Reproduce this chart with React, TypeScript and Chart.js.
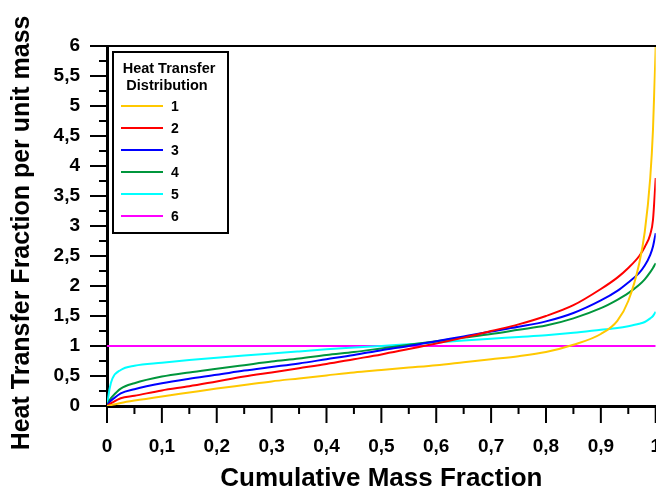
import React, { useEffect, useRef } from 'react';
import { Chart, registerables } from 'chart.js';

Chart.register(...registerables);

// Cumulative mass fraction sample points (shared by series 1-5)
const massFraction = [0, 0.005, 0.01, 0.025, 0.05, 0.1, 0.15, 0.2, 0.25, 0.3, 0.35, 0.4, 0.45, 0.5, 0.55, 0.6, 0.65, 0.7, 0.75, 0.8, 0.85, 0.9, 0.93, 0.95, 0.97, 0.98, 0.99, 0.995, 1];

// Heat transfer fraction per unit mass
const dist1 = [0, 0.01, 0.02, 0.05, 0.09, 0.16, 0.225, 0.29, 0.35, 0.41, 0.46, 0.51, 0.56, 0.6, 0.64, 0.68, 0.73, 0.78, 0.83, 0.9, 1.02, 1.2, 1.42, 1.75, 2.38, 2.9, 3.8, 4.6, 6.0];
const dist2 = [0, 0.03, 0.06, 0.13, 0.17, 0.26, 0.33, 0.41, 0.49, 0.56, 0.63, 0.7, 0.78, 0.86, 0.95, 1.04, 1.14, 1.25, 1.36, 1.5, 1.68, 1.95, 2.14, 2.3, 2.5, 2.65, 2.86, 3.1, 3.8];
const dist3 = [0, 0.07, 0.11, 0.21, 0.28, 0.38, 0.455, 0.52, 0.59, 0.65, 0.71, 0.78, 0.85, 0.93, 1.0, 1.08, 1.16, 1.24, 1.32, 1.41, 1.55, 1.76, 1.92, 2.06, 2.22, 2.34, 2.52, 2.66, 2.88];
const dist4 = [0, 0.1, 0.16, 0.29, 0.38, 0.49, 0.56, 0.62, 0.68, 0.74, 0.79, 0.85, 0.9, 0.96, 1.02, 1.08, 1.14, 1.2, 1.27, 1.34, 1.46, 1.63, 1.77, 1.88, 2.02, 2.11, 2.23, 2.3, 2.38];
const dist5 = [0, 0.3, 0.46, 0.6, 0.67, 0.72, 0.765, 0.805, 0.84, 0.875, 0.91, 0.945, 0.975, 1.0, 1.03, 1.06, 1.09, 1.12, 1.15, 1.18, 1.22, 1.27, 1.3, 1.33, 1.37, 1.4, 1.46, 1.5, 1.57];
// uniform distribution
const uniformX = [0, 1];
const dist6 = [1, 1];

const seriesLabels = ['1', '2', '3', '4', '5', '6'];
const seriesColors = ['#FFC800', '#FF0000', '#0000FF', '#00963C', '#00FFFF', '#FF00FF'];

const xTickLabels = ['0', '0,1', '0,2', '0,3', '0,4', '0,5', '0,6', '0,7', '0,8', '0,9', '1'];
const yTickLabels = ['0', '0,5', '1', '1,5', '2', '2,5', '3', '3,5', '4', '4,5', '5', '5,5', '6'];

const FONT = "'Liberation Sans', Arial, sans-serif";

const toPoints = (xs: number[], ys: number[]) => xs.map((x, i) => ({ x, y: ys[i] }));

// tick marks (major + minor), top frame line and the boxed legend
const decorPlugin = {
  id: 'decor',
  afterDraw(chart: any) {
    const { ctx, chartArea, scales } = chart;
    const xs = scales.x;
    const ys = scales.y;
    ctx.save();
    ctx.strokeStyle = '#000';
    ctx.lineWidth = 2;

    ctx.beginPath();
    ctx.moveTo(chartArea.left, chartArea.top);
    ctx.lineTo(chartArea.right + 2, chartArea.top);
    ctx.stroke();

    for (let i = 0; i <= 20; i++) {
      const px = xs.getPixelForValue(i / 20);
      const len = i % 2 === 0 ? 17 : 8;
      ctx.beginPath();
      ctx.moveTo(px, chartArea.bottom);
      ctx.lineTo(px, chartArea.bottom + len);
      ctx.stroke();
    }
    for (let i = 0; i <= 24; i++) {
      const py = ys.getPixelForValue(i / 4);
      const len = i % 2 === 0 ? 17 : 8;
      ctx.beginPath();
      ctx.moveTo(chartArea.left, py);
      ctx.lineTo(chartArea.left - len, py);
      ctx.stroke();
    }

    // legend box
    const lx = chartArea.left + 6;
    const ly = 52;
    ctx.fillStyle = '#fff';
    ctx.fillRect(lx, ly, 115, 181);
    ctx.strokeRect(lx, ly, 115, 181);
    ctx.fillStyle = '#000';
    ctx.font = `bold 14.5px ${FONT}`;
    ctx.textAlign = 'center';
    ctx.textBaseline = 'middle';
    ctx.fillText('Heat Transfer', lx + 56, 69);
    ctx.fillText('Distribution', lx + 54, 86);
    ctx.font = `bold 14px ${FONT}`;
    ctx.textAlign = 'left';
    chart.data.datasets.forEach((ds: any, i: number) => {
      const cy = 106 + 22 * i;
      ctx.strokeStyle = ds.borderColor;
      ctx.beginPath();
      ctx.moveTo(lx + 8, cy);
      ctx.lineTo(lx + 50, cy);
      ctx.stroke();
      ctx.fillStyle = '#000';
      ctx.fillText(ds.label, lx + 58, cy + 1);
    });
    ctx.restore();
  },
};

const HeatChart = () => {
  const canvasRef = useRef<HTMLCanvasElement>(null);

  useEffect(() => {
    document.body.style.margin = '0';
    if (!canvasRef.current) return;
    const seriesY = [dist1, dist2, dist3, dist4, dist5, dist6];
    const chart = new Chart(canvasRef.current, {
      type: 'line',
      data: {
        datasets: seriesY.map((ys, i) => ({
          label: seriesLabels[i],
          data: toPoints(i === 5 ? uniformX : massFraction, ys),
          borderColor: seriesColors[i],
          backgroundColor: seriesColors[i],
          borderWidth: 2,
          pointRadius: 0,
          fill: false,
          cubicInterpolationMode: 'monotone' as const,
        })),
      },
      options: {
        responsive: true,
        maintainAspectRatio: false,
        animation: false,
        layout: { padding: { top: 46, left: 0, right: 0, bottom: 0 } },
        plugins: {
          legend: { display: false },
          tooltip: { enabled: false },
        },
        scales: {
          x: {
            type: 'linear',
            min: 0,
            max: 1,
            grid: { display: false },
            border: { display: true, color: '#000', width: 3 },
            ticks: {
              stepSize: 0.1,
              padding: 21,
              color: '#000',
              maxRotation: 0,
              autoSkip: false,
              font: { family: FONT, size: 19, weight: 'bold' },
              callback: (v: any) => xTickLabels[Math.round(Number(v) * 10)] ?? '',
            },
            title: {
              display: true,
              text: 'Cumulative Mass Fraction',
              color: '#000',
              font: { family: FONT, size: 26, weight: 'bold', lineHeight: 1 },
              padding: { top: 0, bottom: 0 },
            },
            afterFit: (s: any) => {
              s.height = 86;
            },
          },
          y: {
            min: 0,
            max: 6,
            grid: { display: false },
            border: { display: true, color: '#000', width: 3 },
            ticks: {
              stepSize: 0.5,
              padding: 19,
              color: '#000',
              font: { family: FONT, size: 19, weight: 'bold' },
              callback: (v: any) => yTickLabels[Math.round(Number(v) * 2)] ?? '',
            },
            title: {
              display: true,
              text: 'Heat Transfer Fraction per unit mass  ',
              color: '#000',
              font: { family: FONT, size: 25, weight: 'bold' },
              padding: { top: 7, bottom: 0 },
            },
            afterFit: (s: any) => {
              s.width = 107;
            },
          },
        },
      },
      plugins: [decorPlugin],
    });
    return () => chart.destroy();
  }, []);

  return (
    <div style={{ position: 'absolute', left: 0, top: 0, width: '656px', height: '492px', overflow: 'hidden', background: '#fff' }}>
      <div style={{ position: 'relative', width: '682px', height: '492px' }}>
        <canvas ref={canvasRef} />
      </div>
    </div>
  );
};

export default function App() {
  return <HeatChart />;
}
